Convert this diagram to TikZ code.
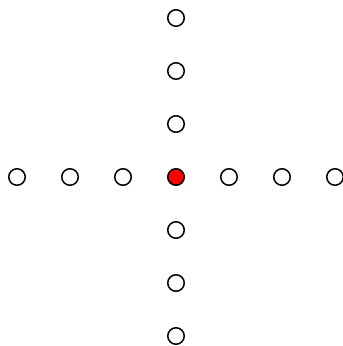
\documentclass[tikz,border=0pt]{standalone}
\usetikzlibrary{positioning}

\begin{document}
\begin{tikzpicture}[
    x=1pt, y=-1pt,
    dot/.style={circle, draw=black, line width=1.5pt, fill=white,
                minimum size=16.5pt, inner sep=0pt},
    hub/.style={dot, fill=red}
  ]
  \useasboundingbox (0,0) rectangle (343,346);
  \node[hub] (hub) at (176,177) {};
  % arms of the cross
  \foreach \k/\d in {1/53, 2/106, 3/159} {
    \node[dot] (up\k)    at (176,177-\d) {};
    \node[dot] (down\k)  at (176,177+\d) {};
    \node[dot] (left\k)  at (176-\d,177) {};
    \node[dot] (right\k) at (176+\d,177) {};
  }
\end{tikzpicture}
\end{document}
